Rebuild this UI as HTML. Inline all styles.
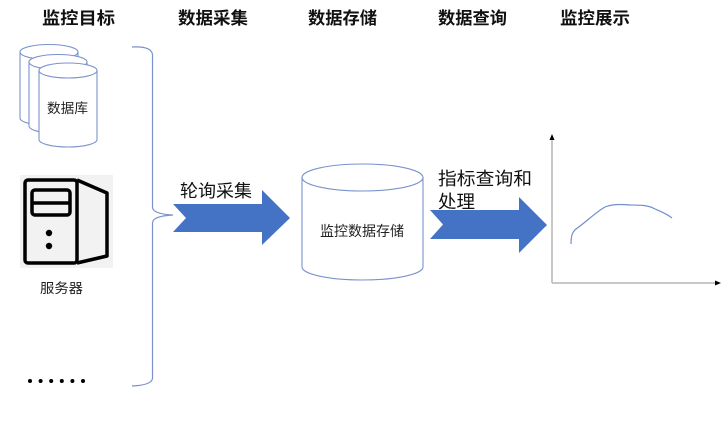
<!DOCTYPE html>
<html>
<head>
<meta charset="utf-8">
<style>
html,body{margin:0;padding:0;background:#fff;}
body{width:725px;height:421px;overflow:hidden;}
svg{display:block;}
text{font-family:"Liberation Sans","Noto Sans CJK SC","WenQuanYi Zen Hei",sans-serif;}
</style>
</head>
<body>
<svg width="725" height="421" viewBox="0 0 725 421" xmlns="http://www.w3.org/2000/svg">
  <!-- headers -->
  <g font-size="17" font-weight="bold" fill="#111">
    <text x="42" y="24" textLength="73" lengthAdjust="spacingAndGlyphs">监控目标</text>
    <text x="178" y="24" textLength="70" lengthAdjust="spacingAndGlyphs">数据采集</text>
    <text x="308" y="24" textLength="69" lengthAdjust="spacingAndGlyphs">数据存储</text>
    <text x="438" y="24" textLength="69" lengthAdjust="spacingAndGlyphs">数据查询</text>
    <text x="560" y="24" textLength="70" lengthAdjust="spacingAndGlyphs">监控展示</text>
  </g>

  <!-- stacked database cylinders -->
  <g stroke="#7b93cc" stroke-width="1.1" fill="#fff">
    <path d="M20,52 L20,118 A29,7.5 0 0 0 78,118 L78,52 Z"/>
    <ellipse cx="49" cy="52" rx="29" ry="7.5"/>
    <path d="M29,62 L29,126 A29,7.5 0 0 0 87,126 L87,62 Z"/>
    <ellipse cx="58" cy="62" rx="29" ry="7.5"/>
    <path d="M39,70.5 L39,139.5 A29,7.5 0 0 0 97,139.5 L97,70.5 Z"/>
    <ellipse cx="68" cy="70.5" rx="29" ry="7.5"/>
  </g>
  <text x="47" y="113" font-size="13.5" fill="#222" textLength="41" lengthAdjust="spacingAndGlyphs">数据库</text>

  <!-- server icon -->
  <rect x="20" y="175" width="93" height="93" fill="#f2f2f2"/>
  <g stroke="#000" stroke-width="3.5" fill="none" stroke-linejoin="round">
    <rect x="25" y="180" width="52" height="83" rx="3"/>
    <path d="M77,180 L107,193 L107,256 L77,263"/>
    <rect x="32" y="190" width="38" height="25" rx="3"/>
    <line x1="32" y1="203" x2="70" y2="203"/>
  </g>
  <circle cx="49" cy="233" r="3.2" fill="#000"/>
  <circle cx="49" cy="246" r="3.2" fill="#000"/>
  <text x="40" y="293" font-size="13.5" fill="#222" textLength="43" lengthAdjust="spacingAndGlyphs">服务器</text>

  <!-- dots -->
  <g fill="#000">
    <circle cx="30" cy="381" r="2"/>
    <circle cx="40.6" cy="381" r="2"/>
    <circle cx="51.2" cy="381" r="2"/>
    <circle cx="61.8" cy="381" r="2"/>
    <circle cx="72.4" cy="381" r="2"/>
    <circle cx="83" cy="381" r="2"/>
  </g>

  <!-- bracket -->
  <path d="M132,47 Q152,46 152.5,55 L152.5,207 Q152.5,214 173,215 Q152.5,216 152.5,223 L152.5,378 Q152.5,385 132,386" fill="none" stroke="#7b93cc" stroke-width="1.2"/>

  <!-- arrow 1 -->
  <polygon points="173,204 262,204 262,190 290,218 262,245 262,232 173,232 186,218" fill="#4472c4"/>
  <text x="180" y="197" font-size="17.5" fill="#111" textLength="72" lengthAdjust="spacingAndGlyphs">轮询采集</text>

  <!-- storage cylinder -->
  <g stroke="#7b93cc" stroke-width="1.1" fill="#fff">
    <path d="M302,177.5 L302,267 A60.5,13 0 0 0 423,267 L423,177.5 Z"/>
    <ellipse cx="362.5" cy="177.5" rx="60.5" ry="13.5"/>
  </g>
  <text x="320" y="236" font-size="14" fill="#222" textLength="84" lengthAdjust="spacingAndGlyphs">监控数据存储</text>

  <!-- arrow 2 -->
  <polygon points="430,210 519,210 519,197 547,225 519,253 519,239 430,239 443,224.5" fill="#4472c4"/>
  <text x="438" y="185" font-size="18" fill="#111" textLength="94" lengthAdjust="spacingAndGlyphs">指标查询和</text>
  <text x="438" y="208" font-size="18" fill="#111" textLength="37" lengthAdjust="spacingAndGlyphs">处理</text>

  <!-- chart axes -->
  <line x1="552" y1="139" x2="552" y2="283" stroke="#b5b5b5" stroke-width="1.5"/>
  <line x1="552" y1="283" x2="716" y2="283" stroke="#b5b5b5" stroke-width="1.5"/>
  <polygon points="552,134 549.5,140 554.5,140" fill="#000"/>
  <polygon points="721,283 715,280.5 715,285.5" fill="#000"/>

  <!-- curve -->
  <path d="M571,244 C571,237 572,232 576,229 C586,222 596,212 605,207 C612,204 620,204 630,205 C640,205 648,205 655,209 C662,212 667,214 672,218" fill="none" stroke="#6f8fcf" stroke-width="1.2"/>
</svg>
</body>
</html>
